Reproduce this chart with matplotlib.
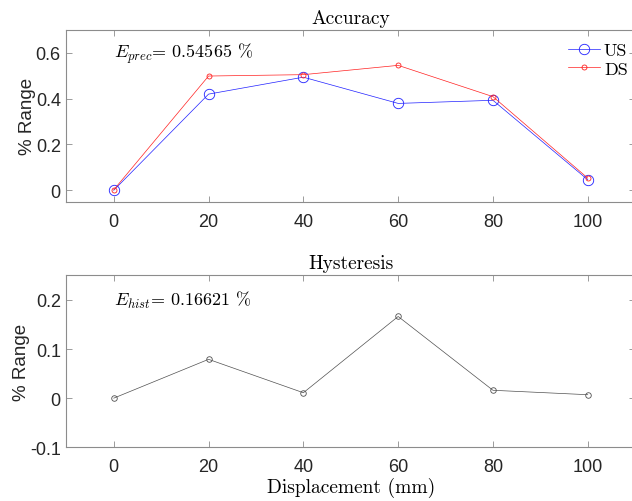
import numpy as np
import matplotlib
matplotlib.use('Agg')
import matplotlib.pyplot as plt

plt.rcParams['font.family'] = ['Liberation Sans', 'DejaVu Sans']
plt.rcParams['mathtext.fontset'] = 'cm'

# Displacement steps and errors in % of range
displacement = [0, 20, 40, 60, 80, 100]
err_up = [0.0, 0.420, 0.494, 0.3794, 0.393, 0.046]
err_down = [0.002, 0.499, 0.505, 0.54565, 0.409, 0.053]
err_hyst = [0.0, 0.079, 0.011, 0.16621, 0.016, 0.007]

e_prec = 0.54565
e_hist = 0.16621

axis_col = '#8c8c8c'
label_col = '#262626'
tex_font = 'cmr10'


def style_axes(ax, yticks, ylim):
    ax.set_xlim(-10, 110)
    ax.set_ylim(*ylim)
    ax.set_xticks(displacement)
    ax.set_xticklabels(['%d' % d for d in displacement])
    ax.set_yticks(yticks)
    ax.set_yticklabels(['%g' % t for t in yticks])
    ax.tick_params(direction='in', length=4, width=0.6, color=axis_col,
                   labelcolor=label_col, labelsize=13,
                   top=True, right=True)
    ax.tick_params(axis='x', pad=8)
    ax.tick_params(axis='y', pad=4)
    for s in ax.spines.values():
        s.set_color(axis_col)
        s.set_linewidth(0.8)
    ax.set_ylabel('% Range', fontsize=13.5, color=label_col, labelpad=0)


fig = plt.figure(figsize=(6.32, 5.02), dpi=100)

# accuracy, up and down strokes
ax1 = fig.add_axes([0.105, 0.5962, 0.900, 0.342])
ax1.plot(displacement, err_up, color='#2020ff', lw=0.5, marker='o',
         ms=7.5, mfc='none', mew=0.6, label='US')
ax1.plot(displacement, err_down, color='#ff2020', lw=0.5, marker='o',
         ms=3.6, mfc='none', mew=0.6, label='DS')
style_axes(ax1, [0, 0.2, 0.4, 0.6], (-0.05, 0.7))
ax1.set_title('Accuracy', fontsize=14, family=tex_font, pad=5)
ax1.text(0, 0.6, r'$E_{prec}$= %.5f %%' % e_prec, family=tex_font,
         fontsize=13, va='center', ha='left')
ax1.legend(loc='upper right', frameon=False, prop={'family': tex_font, 'size': 13},
           handlelength=1.8, handletextpad=0.2, labelspacing=0.15,
           borderaxespad=0.3, borderpad=0.4, bbox_to_anchor=(1.009, 1.0))

# hysteresis
ax2 = fig.add_axes([0.105, 0.1070, 0.900, 0.3426])
ax2.plot(displacement, err_hyst, color='#505050', lw=0.5, marker='o',
         ms=4, mfc='none', mew=0.6)
style_axes(ax2, [-0.1, 0, 0.1, 0.2], (-0.1, 0.25))
ax2.set_title('Hysteresis', fontsize=14, family=tex_font, pad=5)
ax2.text(0, 0.2, r'$E_{hist}$= %.5f %%' % e_hist, family=tex_font,
         fontsize=13, va='center', ha='left')
ax2.set_xlabel('Displacement (mm)', fontsize=14, family=tex_font, labelpad=1)

fig.savefig('out.png', dpi=100)
plt.close(fig)
